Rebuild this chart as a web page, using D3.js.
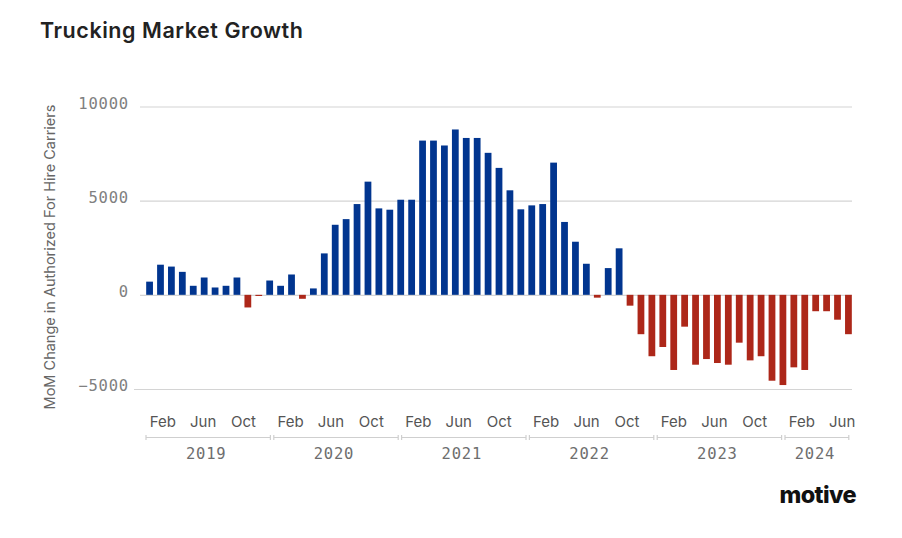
<!DOCTYPE html>
<html>
<head>
<meta charset="utf-8">
<script src="https://cdn.jsdelivr.net/npm/d3@7"></script>
<style>
  html, body { margin: 0; padding: 0; background: #fff; }
  svg { display: block; }
  .grid line { stroke: #d4d4d4; stroke-width: 1.2; }
  .grid text { font-family: "DejaVu Sans Mono", monospace; font-size: 15.5px; fill: #808080; letter-spacing: 0.8px; }
  .month-label { font-family: Inter, "Noto Sans", sans-serif; font-size: 15px; fill: #555; }
  .year-label { font-family: "DejaVu Sans Mono", monospace; font-size: 15.5px; fill: #6e6e6e; letter-spacing: 0.8px; }
  .bracket { stroke: #cfcfcf; stroke-width: 1.2; fill: none; }
</style>
</head>
<body>
<script>
// Month-over-month change in authorized for-hire carriers, Feb 2019 - Jun 2024.
const months = d3.timeMonths(new Date(2019, 1, 1), new Date(2024, 6, 1));
const changes = [
  700, 1600, 1500, 1220, 480, 920, 390, 480, 920, -670, -60,
  760, 480, 1080, -210, 340, 2200, 3720, 4020, 4820, 6010, 4590,
  4520, 5050, 5050, 8190, 8190, 7930, 8780, 8330, 8330, 7540, 6740,
  5550, 4540, 4750, 4820, 7020, 3870, 2820, 1650, -150, 1420, 2470,
  -575, -2090, -3260, -2770, -3990, -1690, -3710, -3410, -3620, -3710, -2540,
  -3480, -3260, -4560, -4790, -3850, -3990, -870, -870, -1320, -2090
];
const yTicks = [-5000, 0, 5000, 10000];
const years = [2019, 2020, 2021, 2022, 2023, 2024];
const yearMonthCounts = [12, 12, 12, 12, 12, 6];
const monthLabels = [{ m: 1, text: 'Feb' }, { m: 5, text: 'Jun' }, { m: 9, text: 'Oct' }];

const W = 902, H = 538;
const PLOT_LEFT = 140, PLOT_RIGHT = 852;
const BLUE = '#01358f', RED = '#ad2719';

const svg = d3.select('body').append('svg')
  .attr('width', W).attr('height', H)
  .attr('viewBox', `0 0 ${W} ${H}`);

svg.append('rect').attr('width', W).attr('height', H).attr('fill', '#fff');

svg.append('text')
  .attr('x', 40).attr('y', 38)
  .attr('font-family', 'Inter, "Noto Sans", sans-serif')
  .attr('font-size', 21.5).attr('font-weight', 600)
  .attr('letter-spacing', '0.55px')
  .attr('fill', '#222')
  .text('Trucking Market Growth');

const y = d3.scaleLinear().domain([-5000, 10000]).range([389, 106.5]);

// Bars live on their own band scale (one band per data month).
const x = d3.scaleBand()
  .domain(months.map((d) => +d))
  .range([144, 854])
  .paddingInner(0.38)
  .paddingOuter(0.2);

// Gridlines + tick labels
const grid = svg.append('g')
  .attr('class', 'grid')
  .attr('transform', `translate(${PLOT_LEFT},0)`)
  .call(d3.axisLeft(y).tickValues(yTicks).tickSize(-(PLOT_RIGHT - PLOT_LEFT)).tickPadding(11).tickFormat(d3.format('d')));
grid.select('.domain').remove();
grid.selectAll('text').attr('dy', '0.12em');
// bottom gridline reaches a little further left
grid.selectAll('.tick').filter((d) => d === -5000).select('line').attr('x1', -6);

svg.append('text')
  .attr('transform', `translate(55,${(104 + 410) / 2}) rotate(-90)`)
  .attr('text-anchor', 'middle')
  .attr('font-family', 'Inter, "Noto Sans", sans-serif')
  .attr('font-size', 14.5)
  .attr('fill', '#666')
  .text('MoM Change in Authorized For Hire Carriers');

svg.append('g').selectAll('rect')
  .data(months.map((d, i) => ({ date: d, value: changes[i] })))
  .join('rect')
  .attr('x', (d) => x(+d.date))
  .attr('width', x.bandwidth())
  .attr('y', (d) => y(Math.max(0, d.value)))
  .attr('height', (d) => Math.max(1, Math.abs(y(d.value) - y(0))))
  .attr('fill', (d) => (d.value >= 0 ? BLUE : RED));

// Year-faceted month axis: each year gets its own bracket of month slots.
const yearStart = d3.scaleLinear().domain([2019, 2024]).range([146, 785]);
const MONTH_STEP = 10.1;
const FACET_PAD = 1.6;
const BRACKET_Y = 437.5;

const facets = svg.append('g').selectAll('g')
  .data(years.map((yr, i) => ({ year: yr, n: yearMonthCounts[i] })))
  .join('g')
  .attr('transform', (d) => `translate(${yearStart(d.year)},0)`);

const month = d3.scaleBand().domain(d3.range(12)).paddingInner(0).paddingOuter(0);

facets.each(function (d) {
  const g = d3.select(this);
  const width = d.n * MONTH_STEP + FACET_PAD * 2;
  const m = month.copy().domain(d3.range(d.n)).range([FACET_PAD, width - FACET_PAD]);

  g.append('path')
    .attr('class', 'bracket')
    .attr('d', `M0,${BRACKET_Y - 2.5}V${BRACKET_Y + 2.5}M0,${BRACKET_Y}H${width}M${width},${BRACKET_Y - 2.5}V${BRACKET_Y + 2.5}`);

  g.selectAll('.month-label')
    .data(monthLabels.filter((l) => l.m < d.n))
    .join('text')
    .attr('class', 'month-label')
    .attr('x', (l) => m(l.m) + m.bandwidth() / 2)
    .attr('y', 427)
    .attr('text-anchor', 'middle')
    .text((l) => l.text);

  g.append('text')
    .attr('class', 'year-label')
    .attr('x', width / 2 - 2)
    .attr('y', 459)
    .attr('text-anchor', 'middle')
    .text(d.year);
});

// Brand mark
svg.append('text')
  .attr('x', 856).attr('y', 503)
  .attr('text-anchor', 'end')
  .attr('font-family', 'Inter, "Noto Sans", sans-serif')
  .attr('font-size', 23.5).attr('font-weight', 800)
  .attr('letter-spacing', '-0.6px')
  .attr('fill', '#111')
  .text('motive');
</script>
</body>
</html>
